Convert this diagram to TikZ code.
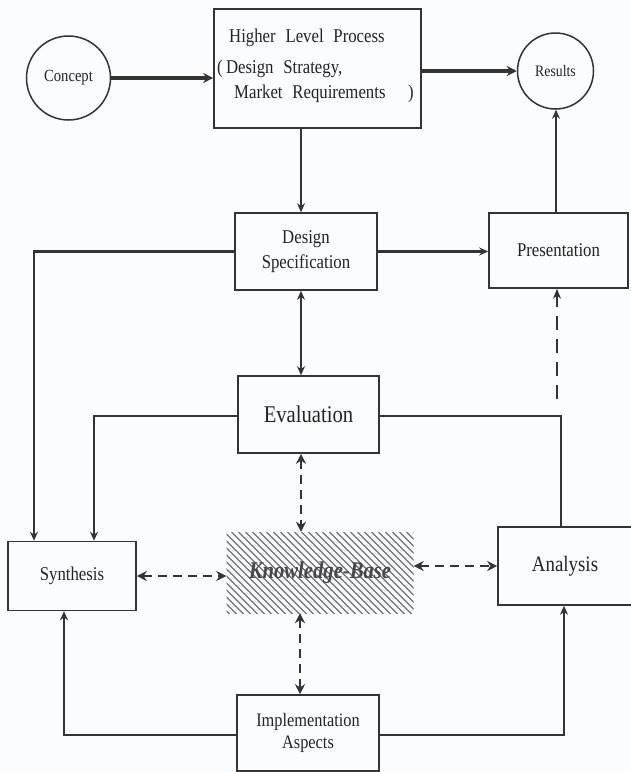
\documentclass[tikz,border=0pt]{standalone}
\usepackage{fontspec}
\setmainfont[FakeStretch=0.86]{Liberation Serif}
\usetikzlibrary{arrows.meta}
\definecolor{ink}{HTML}{343434}
\definecolor{letter}{HTML}{242424}
\definecolor{paper}{HTML}{FBFCFD}
\newcommand{\fs}[1]{\fontsize{#1}{#1}\selectfont}

\begin{document}
\begin{tikzpicture}[x=1pt,y=-1pt,
  box/.style={draw=ink,line width=1.6pt,inner sep=0pt,text=letter,align=center},
  circ/.style={circle,draw=ink,line width=1.5pt,inner sep=0pt,text=letter},
  txt/.style={inner sep=0pt,text=letter},
  tip/.tip={Stealth[length=9pt,width=8pt]},
  flow/.style={draw=ink,line width=2.2pt,-tip},
  heavy/.style={draw=ink,line width=3.8pt,-{Stealth[length=10pt,width=10pt]}},
  link/.style={draw=ink,line width=2.2pt},
  both/.style={draw=ink,line width=2.2pt,tip-tip},
  kbdash/.style={draw=ink,line width=2.6pt,dash pattern=on 9pt off 6pt,
    {Stealth[length=10pt,width=10pt]}-{Stealth[length=10pt,width=10pt]}},
  thindash/.style={draw=ink,line width=1.1pt,dash pattern=on 14pt off 9pt,
    -{Stealth[length=10pt,width=8pt]}},
  kbhatch/.style={path picture={
    \foreach \d in {-100,-93,...,200}
      \draw[ink!70,line width=1.3pt]
        ([xshift=\d pt]path picture bounding box.north west) -- ++(110,110);}}
]
\useasboundingbox (0,0) rectangle (631,772);
\fill[paper] (0,0) rectangle (631,772);

% upper row
\node[circ,minimum size=84pt,font=\fs{17}] (concept) at (68.5,78) {Concept};
\node[box,minimum width=207pt,minimum height=119pt] (hlp) at (317.5,68.5) {};
\node[txt,anchor=west,font=\fs{19.5}] (hlpA) at (229,38) {Higher\hspace{0.5em}Level\hspace{0.5em}Process};
\node[txt,anchor=west,font=\fs{19.5}] (hlpB) at (217,69) {(\,Design\hspace{0.5em}Strategy,};
\node[txt,anchor=west,font=\fs{19.5}] (hlpC) at (234,94) {Market\hspace{0.5em}Requirements};
\node[txt,anchor=east,font=\fs{19.5}] (hlpD) at (414,94) {)};
\node[circ,minimum size=76pt,font=\fs{16}] (results) at (555.5,71) {Results};

% middle row
\node[box,minimum width=142pt,minimum height=77pt,font=\fs{19.5}] (ds) at (306,251.5)
  {Design\\[5pt]Specification};
\node[box,minimum width=139pt,minimum height=75pt,font=\fs{19.5}] (pres) at (558.5,250.5)
  {Presentation};
\node[box,minimum width=141pt,minimum height=77pt,font=\fs{24}] (eval) at (308.5,414.5)
  {Evaluation};

% lower row
\node[box,minimum width=128pt,minimum height=69pt,font=\fs{19.5}] (synth) at (72,576)
  {Synthesis};
\node[kbhatch,minimum width=187pt,minimum height=81pt,inner sep=0pt,
  text=ink!90,font=\fs{24}\bfseries\itshape] (kb) at (320,572.5) {Knowledge-Base};
\node[box,minimum width=134pt,minimum height=78pt,font=\fs{22}] (ana) at (565,566)
  {Analysis};
\node[box,minimum width=142pt,minimum height=76pt,font=\fs{19}] (impl) at (308,733)
  {Implementation\\[3pt]Aspects};

\coordinate (dashfoot) at (557,399);

% connectors
\draw[heavy] (concept.east) -- (concept.east -| hlp.west);
\draw[heavy] (hlp.east |- results) -- (results.west);
\draw[flow] ([xshift=-5pt]ds.north |- hlp.south) -- ([xshift=-5pt]ds.north);
\draw[both] ([xshift=-5pt]ds.south) -- ([xshift=-5pt]ds.south |- eval.north);
\draw[flow] (ds.east) -- (ds.east -| pres.west);
\draw[flow] ([xshift=-2.5pt]pres.north) -- ([xshift=-2.5pt]pres.north |- results.south);
\draw[thindash] (dashfoot) -- (dashfoot |- pres.south);
\draw[flow] (ds.west) -| ([xshift=-38pt]synth.north);
\draw[flow] ([yshift=-1.5pt]eval.west) -| ([xshift=22pt]synth.north);
\draw[link] ([yshift=-1.5pt]eval.east) -| ([xshift=-4pt]ana.north);
\draw[kbdash] ([xshift=-7.5pt]eval.south) -- ([xshift=-7.5pt]eval.south |- kb.north);
\draw[kbdash] (synth.east) -- (synth.east -| kb.west);
\draw[kbdash] (ana.west -| kb.east) -- (ana.west);
\draw[kbdash] ([xshift=-8pt]impl.north |- kb.south) -- ([xshift=-8pt]impl.north);
\draw[flow] ([yshift=-2pt]impl.west) -| ([xshift=-8pt]synth.south);
\draw[flow] ([yshift=-2pt]impl.east) -| ([xshift=-1pt]ana.south);
\end{tikzpicture}
\end{document}
